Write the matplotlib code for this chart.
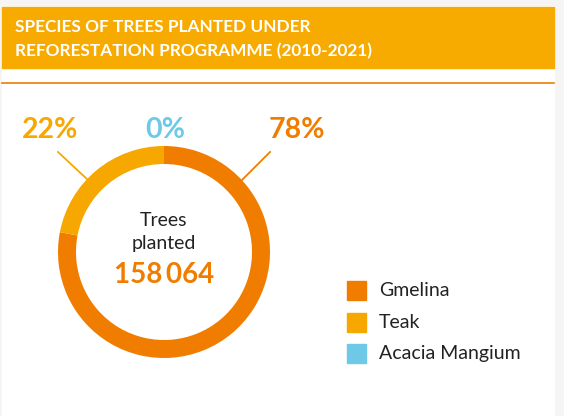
import matplotlib.pyplot as plt
from matplotlib.patches import Rectangle

# data
species = ["Gmelina", "Teak", "Acacia Mangium"]
shares = [78, 22, 0]
share_labels = ["78%", "22%", "0%"]
colours = ["#f07d00", "#f7a800", "#6ec9e6"]
total_trees = "158\u2009064"
title = "SPECIES OF TREES PLANTED UNDER\nREFORESTATION PROGRAMME (2010-2021)"

W, H = 564, 416
plt.rcParams["font.family"] = ["Lato", "DejaVu Sans"]

fig = plt.figure(figsize=(W / 100, H / 100), dpi=100, facecolor="#f6f5f4")
ax = fig.add_axes([0, 0, 1, 1])


def y(p):
    # pixel row from the top -> data y
    return H - p


# donut
cx, cy, r = 164, y(252), 106
ax.pie(shares, colors=colours, startangle=90, counterclock=False,
       center=(cx, cy), radius=r, frame=True,
       wedgeprops=dict(width=18, linewidth=0))
ax.set_xlim(0, W)
ax.set_ylim(0, H)
ax.set_aspect("equal")
ax.axis("off")

# panel, header bar and divider
ax.add_patch(Rectangle((2, 0), 552, y(6), color="white", zorder=-1))
ax.add_patch(Rectangle((2, y(68)), 552, 61, color="#f7aa00", zorder=1))
ax.plot([2, 554], [y(83), y(83)], color="#f07d00", lw=1.2, zorder=1)
ax.text(15, y(39), title, color="white", fontsize=12.4, fontweight="bold",
        va="center", ha="left", linespacing=1.55, zorder=2)

# percentage labels and leader lines
label_pos = {"78%": (297, 130), "22%": (50, 130), "0%": (165, 130)}
for lab, col in zip(share_labels, colours):
    lx, ly = label_pos[lab]
    ax.text(lx, y(ly), lab, color=col, fontsize=20.5, fontweight="bold",
            ha="center", va="center")
ax.plot([58, 88], [y(152), y(180)], color=colours[1], lw=1.3)
ax.plot([270, 242], [y(152), y(180)], color=colours[0], lw=1.3)

# centre text
ax.text(cx, y(221), "Trees", color="#222222", fontsize=14, ha="center", va="center")
ax.text(cx, y(244), "planted", color="#222222", fontsize=14, ha="center", va="center")
ax.text(cx, y(275), total_trees, color=colours[0], fontsize=20, fontweight="bold",
        ha="center", va="center")

# legend
for i, (name, col) in enumerate(zip(species, colours)):
    top = 281 + i * 31.5
    ax.add_patch(Rectangle((347, y(top + 19)), 19, 19, color=col))
    ax.text(379, y(top + 9.5), name, color="#222222", fontsize=14,
            ha="left", va="center")

fig.savefig("out.png", dpi=100, facecolor=fig.get_facecolor())
